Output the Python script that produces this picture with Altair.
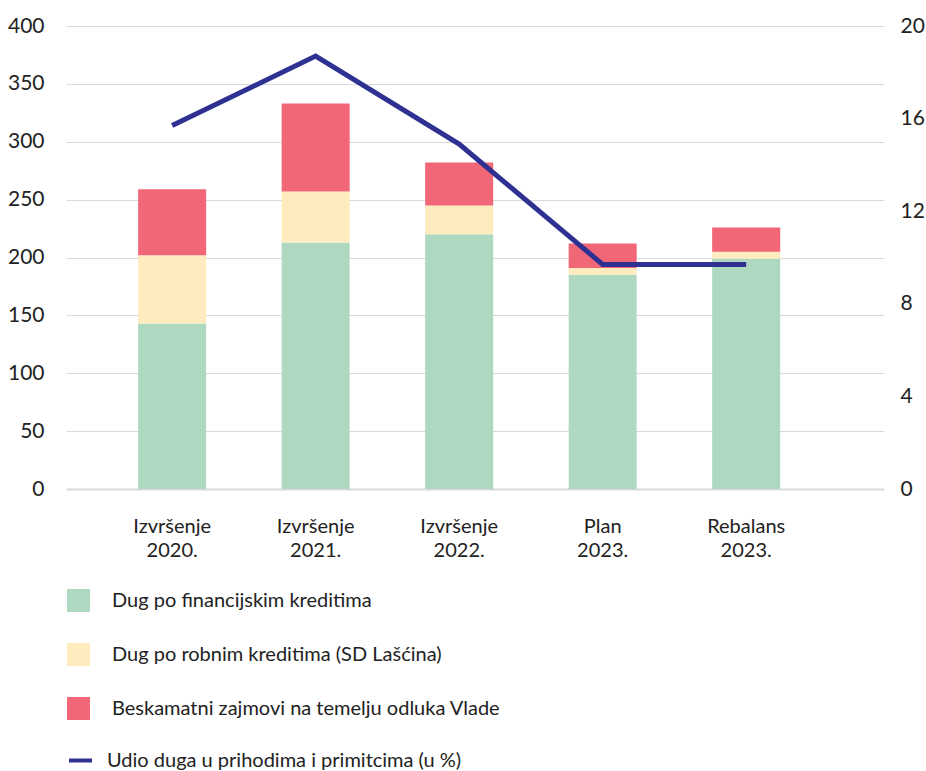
import altair as alt
import pandas as pd

categories = ["Izvršenje 2020.", "Izvršenje 2021.", "Izvršenje 2022.", "Plan 2023.", "Rebalans 2023."]
series = ["Dug po financijskim kreditima", "Dug po robnim kreditima (SD Lašćina)",
          "Beskamatni zajmovi na temelju odluka Vlade"]
fin = [143, 213, 220, 185, 199]
robni = [59, 44, 25, 6, 6]
besk = [57, 76, 37, 21, 21]
line_name = "Udio duga u prihodima i primitcima (u %)"
udio = [15.7, 18.7, 14.9, 9.7, 9.7]

colors = ["#aed9c0", "#feebbe", "#f26777"]
navy = "#2e3192"
FONT = "Lato"
FW = 400
TXT = "#222222"

rows = []
for i, c in enumerate(categories):
    for j, (s, vals) in enumerate(zip(series, [fin, robni, besk])):
        rows.append({"kat": c, "serija": s, "vrijednost": vals[i], "red": j})
bars_df = pd.DataFrame(rows)
line_df = pd.DataFrame({"kat": categories, "udio": udio, "naziv": [line_name] * len(categories)})

xscale = alt.Scale(domain=categories, paddingInner=0.526, paddingOuter=0.613, align=0.41)
xaxis = alt.Axis(title=None, labelExpr="split(datum.label, ' ')", labelAngle=0,
                 labelFontSize=20, labelLineHeight=24, labelPadding=27, ticks=False,
                 domain=False, grid=False, labelColor=TXT, labelFont=FONT,
                 labelFontWeight=FW)

bars = alt.Chart(bars_df).mark_bar().encode(
    x=alt.X("kat:N", sort=categories, scale=xscale, axis=xaxis),
    y=alt.Y("vrijednost:Q", stack="zero", scale=alt.Scale(domain=[0, 400], nice=False),
            axis=alt.Axis(title=None, values=list(range(0, 401, 50)), orient="left",
                          labelFontSize=21, labelPadding=22, ticks=False, domain=False,
                          grid=True, gridColor="#d9d9d9",
                          gridWidth={"condition": {"test": "datum.value === 0", "value": 2}, "value": 1},
                          labelColor=TXT, labelFont=FONT, labelFontWeight=FW)),
    color=alt.Color("serija:N", scale=alt.Scale(domain=series, range=colors),
                    legend=alt.Legend(title=None, orient="none", legendX=1, legendY=563,
                                      direction="vertical", symbolType="square", symbolSize=529,
                                      symbolStrokeWidth=0, rowPadding=31, labelFontSize=20,
                                      labelOffset=22, labelColor=TXT, labelFont=FONT,
                                      labelFontWeight=FW, labelLimit=600)),
    order=alt.Order("red:Q"),
)

line = alt.Chart(line_df).mark_line(strokeWidth=5, color=navy).encode(
    x=alt.X("kat:N", sort=categories, scale=xscale, axis=xaxis),
    y=alt.Y("udio:Q", scale=alt.Scale(domain=[0, 20], nice=False),
            axis=alt.Axis(title=None, values=[0, 4, 8, 12, 16, 20], orient="right",
                          labelFontSize=21, labelPadding=16, ticks=False, domain=False,
                          grid=False, labelColor=TXT, labelFont=FONT, labelFontWeight=FW)),
    stroke=alt.Stroke("naziv:N", scale=alt.Scale(domain=[line_name], range=[navy]),
                      legend=alt.Legend(title=None, orient="none", legendX=1, legendY=721,
                                        symbolType="stroke", symbolSize=529, symbolStrokeWidth=4,
                                        labelFontSize=20, labelOffset=13, labelColor=TXT,
                                        labelFont=FONT, labelFontWeight=FW, labelLimit=600)),
)

chart = alt.layer(bars, line).resolve_scale(y="independent", color="independent").properties(
    width=818, height=463,
    padding={"left": 66, "top": 26, "right": 42, "bottom": 282},
    autosize=alt.AutoSizeParams(type="none"),
).configure(font=FONT, background="white").configure_view(stroke=None, strokeWidth=0)

chart.save("out.html", embed_options={"renderer": "svg", "actions": False})
